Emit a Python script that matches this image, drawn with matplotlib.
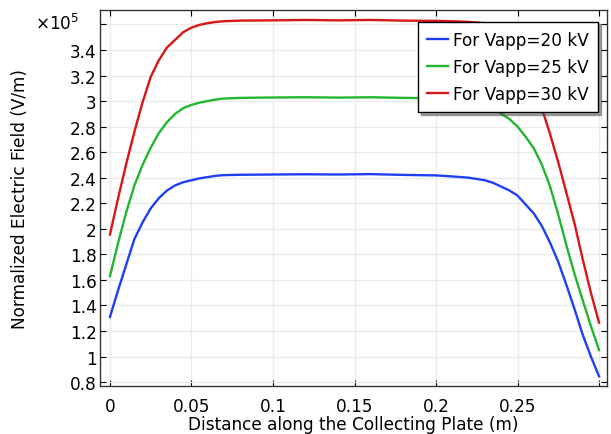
import matplotlib
matplotlib.use("Agg")
import matplotlib.pyplot as plt

x = [0, 0.005, 0.01, 0.015, 0.02, 0.025, 0.03, 0.035, 0.04, 0.045, 0.05, 0.055, 0.06,
     0.065, 0.07, 0.08, 0.1, 0.12, 0.14, 0.16, 0.18, 0.2, 0.21, 0.22, 0.23, 0.235, 0.24,
     0.245, 0.25, 0.255, 0.26, 0.265, 0.27, 0.275, 0.28, 0.285, 0.29, 0.295, 0.3]

e20 = [1.31, 1.52, 1.72, 1.92, 2.05, 2.16, 2.24, 2.30, 2.34, 2.365, 2.38, 2.395, 2.405,
       2.415, 2.42, 2.423, 2.425, 2.427, 2.425, 2.428, 2.422, 2.418, 2.41, 2.40, 2.38,
       2.36, 2.33, 2.30, 2.26, 2.19, 2.12, 2.02, 1.89, 1.74, 1.56, 1.37, 1.17, 1.00, 0.845]

e25 = [1.63, 1.89, 2.13, 2.34, 2.50, 2.635, 2.75, 2.835, 2.90, 2.945, 2.97, 2.988, 3.00,
       3.012, 3.02, 3.025, 3.028, 3.03, 3.027, 3.03, 3.025, 3.022, 3.015, 3.00, 2.97,
       2.94, 2.90, 2.86, 2.80, 2.72, 2.63, 2.50, 2.33, 2.11, 1.87, 1.645, 1.44, 1.24, 1.05]

e30 = [1.955, 2.24, 2.51, 2.76, 2.99, 3.19, 3.32, 3.42, 3.48, 3.54, 3.575, 3.597, 3.61,
       3.62, 3.625, 3.63, 3.632, 3.635, 3.632, 3.635, 3.63, 3.628, 3.625, 3.62, 3.61,
       3.595, 3.57, 3.52, 3.43, 3.30, 3.13, 2.94, 2.74, 2.52, 2.28, 2.04, 1.76, 1.50, 1.265]

labels = ["For Vapp=20 kV", "For Vapp=25 kV", "For Vapp=30 kV"]
colors = ["#1f3ff5", "#22b532", "#d91616"]

xticks = [0, 0.05, 0.1, 0.15, 0.2, 0.25, 0.3]
xticklabels = ["0", "0.05", "0.1", "0.15", "0.2", "0.25", ""]
yticks = [0.8, 1.0, 1.2, 1.4, 1.6, 1.8, 2.0, 2.2, 2.4, 2.6, 2.8, 3.0, 3.2, 3.4, 3.6]
yticklabels = ["0.8", "1", "1.2", "1.4", "1.6", "1.8", "2", "2.2", "2.4", "2.6", "2.8",
               "3", "3.2", "3.4", ""]

plt.rcParams['font.family'] = ['DejaVu Sans']
fs = 12.2

fig = plt.figure(figsize=(6.11, 4.35), dpi=100)
ax = fig.add_axes([0.1637, 0.1103, 0.8298, 0.8644])

for ys, lab, c in zip([e20, e25, e30], labels, colors):
    ax.plot(x, ys, color=c, lw=1.7, label=lab, zorder=3)

ax.set_xlim(-0.0061, 0.3049)
ax.set_ylim(0.769, 3.713)
ax.set_xticks(xticks)
ax.set_xticklabels(xticklabels)
ax.set_yticks(yticks)
ax.set_yticklabels(yticklabels)
ax.tick_params(direction='in', top=True, right=True, length=4, width=0.8,
               labelsize=fs)
ax.tick_params(axis='x', pad=8)
ax.tick_params(axis='y', pad=2.5)
ax.grid(True, color='#ebebeb', lw=1.0, zorder=0)
ax.set_axisbelow(True)
for s in ax.spines.values():
    s.set_linewidth(1.0)
    s.set_color('#333333')

ax.set_xlabel("Distance along the Collecting Plate (m)", fontsize=fs)
ax.set_ylabel("Normalized Electric Field (V/m)", fontsize=fs)
ax.xaxis.set_label_coords(0.5, -0.076)
ax.yaxis.set_label_coords(-0.140, 0.5)

fig.text(35/611, 1 - 30/435, r"$\times\mathregular{10^5}$", fontsize=fs,
         ha='left', va='baseline')

leg = ax.legend(loc='upper right', bbox_to_anchor=(0.982, 0.969), fontsize=fs,
                frameon=True, fancybox=False, shadow=True, handlelength=1.2,
                handletextpad=0.3, borderpad=0.55, labelspacing=0.52, borderaxespad=0)
leg.get_frame().set_edgecolor('black')
leg.get_frame().set_linewidth(1.0)

fig.savefig("out.png", dpi=100)
